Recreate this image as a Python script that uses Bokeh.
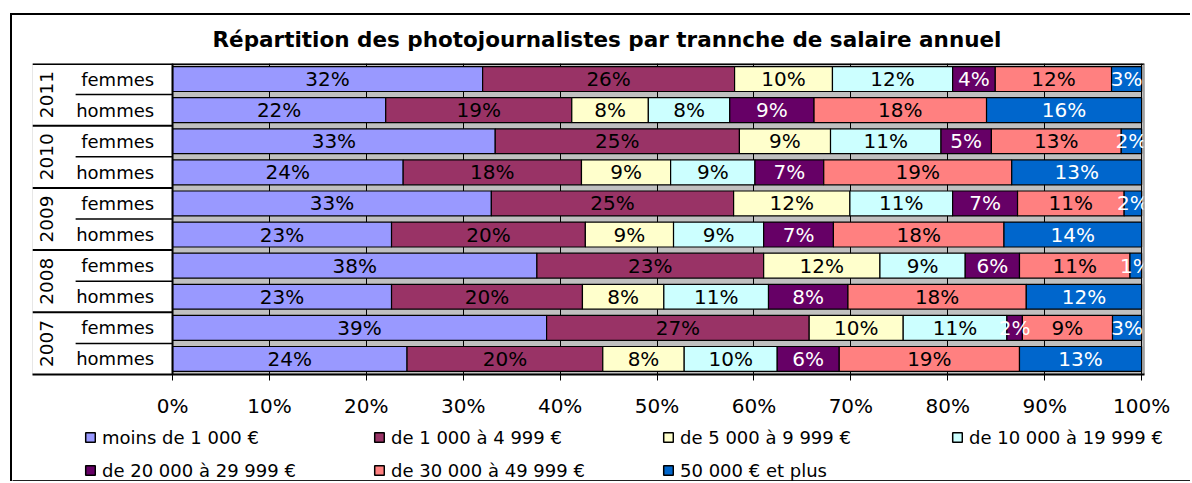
import math
from bokeh.plotting import figure
from bokeh.layouts import column
from bokeh.models import ColumnDataSource, Range1d, FixedTicker, PrintfTickFormatter, Legend
from bokeh.core.properties import value
from bokeh.embed import file_html
from bokeh.resources import INLINE

# ---------------- data ----------------
years = ["2011", "2010", "2009", "2008", "2007"]
sexes = ["femmes", "hommes"]
series_names = ["moins de 1 000 €", "de 1 000 à 4 999 €", "de 5 000 à 9 999 €",
                "de 10 000 à 19 999 €", "de 20 000 à 29 999 €", "de 30 000 à 49 999 €",
                "50 000 € et plus"]
# rows top to bottom: 2011 f, 2011 h, 2010 f, 2010 h, ... 2007 f, 2007 h
moins_1000 = [32.0, 22.0, 33.3, 23.8, 32.9, 22.6, 37.6, 22.6, 38.6, 24.2]
de_1000_4999 = [26.0, 19.2, 25.2, 18.4, 25.0, 20.0, 23.4, 19.7, 27.1, 20.2]
de_5000_9999 = [10.1, 7.9, 9.4, 9.2, 12.0, 9.1, 12.0, 8.4, 9.7, 8.4]
de_10000_19999 = [12.4, 8.4, 11.4, 8.7, 10.6, 9.3, 8.8, 10.8, 10.7, 9.6]
de_20000_29999 = [4.4, 8.7, 5.2, 7.1, 6.7, 7.2, 5.6, 8.2, 1.6, 6.4]
de_30000_49999 = [12.0, 17.8, 13.4, 19.4, 11.0, 17.6, 11.4, 18.4, 9.3, 18.6]
plus_50000 = [3.1, 16.0, 2.1, 13.4, 1.8, 14.2, 1.2, 11.9, 3.0, 12.6]
x_ticks = [0, 10, 20, 30, 40, 50, 60, 70, 80, 90, 100]

series = [moins_1000, de_1000_4999, de_5000_9999, de_10000_19999,
          de_20000_29999, de_30000_49999, plus_50000]
colors = ["#9999FF", "#993366", "#FFFFCC", "#CCFFFF", "#660066", "#FF8080", "#0066CC"]
text_colors = ["black", "black", "black", "black", "white", "black", "white"]

# ---------------- layout constants ----------------
FONT = "DejaVu Sans"
XMIN = -14.45
XMAX = 100.3
rows = [(y, s) for y in years for s in sexes]
n = len(rows)
ypos = [n - 1 - i for i in range(n)]

p = figure(width=1180, height=408,
           x_range=Range1d(XMIN, XMAX), y_range=Range1d(-0.5, n - 0.5),
           output_backend="svg", toolbar_location=None,
           min_border_left=20, min_border_right=48,
           min_border_top=47, min_border_bottom=49,
           background_fill_color="#C0C0C0", border_fill_color="white",
           outline_line_color=None)
p.margin = (13, 0, 0, 10)
p.styles = {"border-left": "2px solid black", "border-top": "2px solid black"}

# title
p.title.text = "Répartition des photojournalistes par trannche de salaire annuel"
p.title.align = "left"
p.title.offset = 180
p.title.vertical_align = "middle"
p.title.text_font = FONT
p.title.text_font_size = "21.5px"
p.title.text_font_style = "bold"
p.title.text_color = "black"
p.title.standoff = 21

# white label area
p.quad(left=XMIN, right=0, bottom=-0.5, top=n - 0.5, fill_color="white", line_color=None)

# stacked bars
keys = ["s%d" % i for i in range(len(series))]
data = {"y": ypos}
for k, s in zip(keys, series):
    data[k] = s
src = ColumnDataSource(data)
p.hbar_stack(keys, y="y", height=0.8, source=src, fill_color=colors,
             line_color="black", line_width=1.2)

# percentage labels
lx, ly, lt, lc = [], [], [], []
for r in range(n):
    cum = 0.0
    for si, s in enumerate(series):
        v = s[r]
        lx.append(cum + v / 2)
        ly.append(ypos[r])
        lt.append("%d%%" % int(v + 0.5))
        lc.append(text_colors[si])
        cum += v
p.text(x="x", y="y", text="t", text_color="c",
       source=ColumnDataSource(dict(x=lx, y=ly, t=lt, c=lc)),
       text_align="center", text_baseline="middle",
       text_font=value(FONT), text_font_size="20px")

# category labels
p.text(x=[-1.9] * n, y=ypos, text=[r[1] for r in rows], text_align="right",
       text_baseline="middle", text_font=value(FONT), text_font_size="18px", text_color="black")
year_y = [n - 1.5 - 2 * i for i in range(len(years))]
p.text(x=[-13.0] * len(years), y=year_y, text=years, angle=math.pi / 2,
       text_align="center", text_baseline="middle",
       text_font=value(FONT), text_font_size="18.5px", text_color="black")

# separators in label area
sep_year = [n - 0.5 - 2 * i for i in range(1, len(years))]
p.segment(x0=[XMIN] * len(sep_year), x1=[0] * len(sep_year), y0=sep_year, y1=sep_year,
          line_color="black", line_width=2)
sep_sex = [n - 1.5 - 2 * i for i in range(len(years))]
p.segment(x0=[-10.0] * len(sep_sex), x1=[0] * len(sep_sex), y0=sep_sex, y1=sep_sex,
          line_color="black", line_width=1.5)
# top border and left border of plot area
p.segment(x0=[XMIN], x1=[XMAX], y0=[n - 0.5], y1=[n - 0.5], line_color="black", line_width=3)
p.segment(x0=[0], x1=[0], y0=[-0.5], y1=[n - 0.5], line_color="black", line_width=2)
p.segment(x0=[XMAX], x1=[XMAX], y0=[-0.5], y1=[n - 0.5], line_color="#808080", line_width=2)

# axes / grid
p.yaxis.visible = False
p.ygrid.visible = False
p.xgrid.ticker = FixedTicker(ticks=x_ticks)
p.xgrid.grid_line_color = "black"
p.xgrid.grid_line_width = 1
xa = p.xaxis[0]
xa.ticker = FixedTicker(ticks=x_ticks)
xa.formatter = PrintfTickFormatter(format="%d%%")
xa.axis_line_color = "black"
xa.axis_line_width = 2
xa.major_tick_line_color = "black"
xa.major_tick_out = 6
xa.major_tick_in = 0
xa.minor_tick_line_color = None
xa.major_label_standoff = 13
xa.major_label_text_font = FONT
xa.major_label_text_font_size = "20px"
xa.major_label_text_color = "black"

# ---------------- legend strip ----------------
p2 = figure(width=1180, height=60, x_range=Range1d(0, 1), y_range=Range1d(0, 1),
            output_backend="svg", toolbar_location=None,
            x_axis_location=None, y_axis_location=None,
            min_border=0, outline_line_color=None,
            background_fill_color="white", border_fill_color="white")
p2.frame_align = False
p2.grid.visible = False
p2.margin = (0, 0, 0, 10)
p2.styles = {"border-left": "2px solid black"}
# legend proxies: one off-range bar per series (never visible in the strip)
leg_renderers = [p2.hbar(y=[-10], left=[0], right=[1], height=0.5, fill_color=c,
                         line_color="black", line_width=1.5) for c in colors]


def make_legend(idx, loc):
    lg = Legend(items=[(series_names[i], [leg_renderers[i]]) for i in idx])
    lg.location = loc
    lg.orientation = "horizontal"
    lg.glyph_width = 12
    lg.glyph_height = 12
    lg.label_standoff = 6
    lg.label_width = 200
    lg.label_height = 22
    lg.spacing = 71
    lg.padding = 0
    lg.margin = 0
    lg.border_line_color = None
    lg.background_fill_alpha = 0
    lg.label_text_font = FONT
    lg.label_text_font_size = "18px"
    lg.label_text_color = "black"
    return lg


p2.add_layout(make_legend([0, 1, 2, 3], (72, 33)))
p2.add_layout(make_legend([4, 5, 6], (72, 0)))

layout = column(p, p2, spacing=0)
open("out.html", "w").write(file_html(layout, INLINE))
